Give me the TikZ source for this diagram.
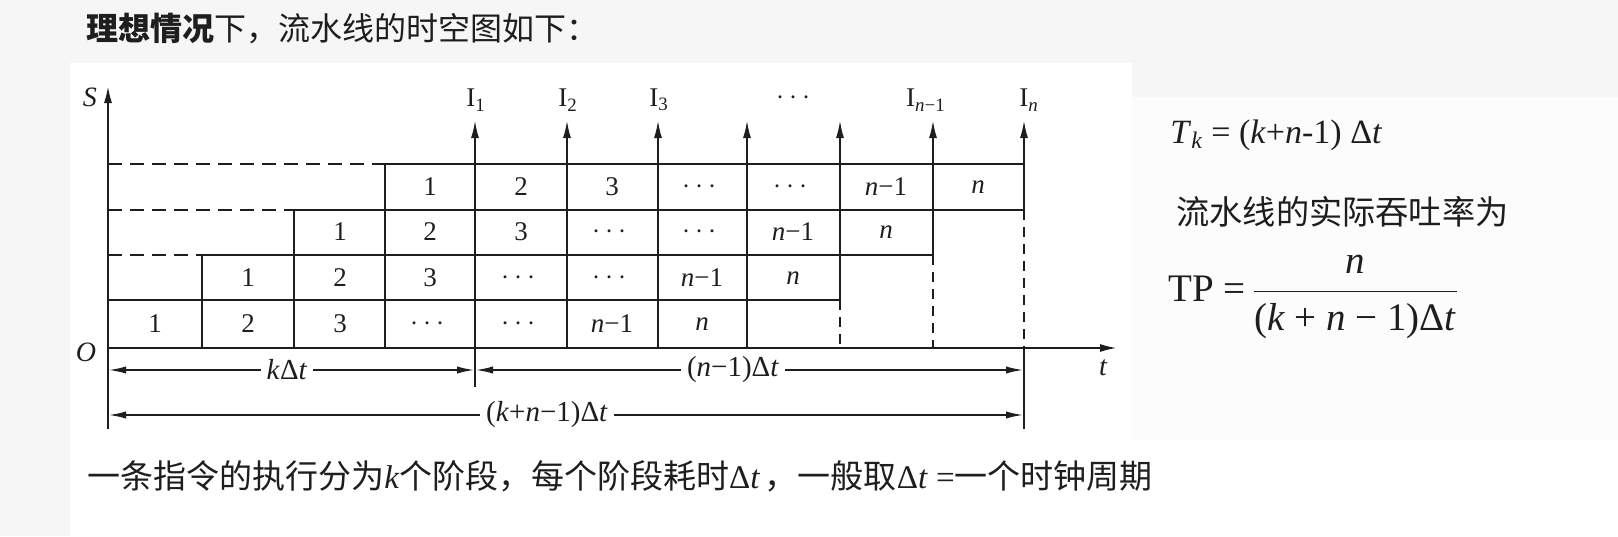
\documentclass[tikz,border=0pt]{standalone}
\usepackage{fontspec}
\usepackage{amsmath}
\setmainfont{Liberation Serif}
\newfontfamily\cjk{Noto Sans CJK SC}
\usetikzlibrary{arrows.meta}
\definecolor{ink}{HTML}{1E1E1E}
\definecolor{bgtop}{HTML}{F6F6F6}
\definecolor{bgright}{HTML}{FCFCFC}
\begin{document}
\begin{tikzpicture}[x=0.5pt,y=-0.5pt,
  grid/.style={line width=1.05pt, draw=ink},
  axisln/.style={line width=1.3pt, draw=ink},
  hdash/.style={grid, dash pattern=on 7pt off 4pt},
  vdash/.style={grid, dash pattern=on 5pt off 3.5pt},
  tip/.style={-{Latex[length=9pt,width=4pt]}},
  dim/.style={grid, {Latex[length=9pt,width=3.6pt]}-{Latex[length=9pt,width=3.6pt]}},
  cell/.style={font=\fontsize{13.5}{15}\selectfont, text=ink, inner sep=0pt},
  lbl/.style={font=\fontsize{13.5}{15}\selectfont, text=ink, inner sep=0pt},
  dimlbl/.style={font=\fontsize{14.5}{16}\selectfont, text=ink, fill=white, inner xsep=3pt, inner ysep=1pt},
  cjktxt/.style={font=\cjk\fontsize{16}{18}\selectfont, text=ink, inner sep=0pt, anchor=west}
]
\useasboundingbox (0,0) rectangle (1618,536);
% backgrounds
\fill[bgtop] (0,0) rectangle (1618,536);
\fill[bgright] (1132,97) rectangle (1618,536);
\fill[white] (70,63) rectangle (1132,536);
\fill[white] (1132,440) rectangle (1618,536);

% title
\node[cjktxt] (title) at (86,29) {{\bfseries 理想情况}下，流水线的时空图如下：};

% axes
\coordinate (O) at (108,348);
\coordinate (Sbot) at (108,429);
\coordinate (Stop) at (108,85);
\coordinate (tend) at (1118,348);
\draw[axisln, tip] (Sbot) -- (Stop);
\draw[axisln, tip] (O) -- (tend);
\node[lbl, font=\fontsize{14}{15}\selectfont\itshape] (Slab) at (90,97) {S};
\node[lbl, font=\fontsize{14}{15}\selectfont\itshape] (Olab) at (86,352) {O};
\node[lbl, font=\fontsize{14}{15}\selectfont\itshape] (tlab) at (1103,368) {t};

% horizontal lines
\draw[grid] (108,300) -- (840,300);
\draw[grid] (202,255) -- (933,255);
\draw[grid] (294,210) -- (1024,210);
\draw[grid] (385,164) -- (1024,164);
\draw[hdash] (108,255) -- (202,255);
\draw[hdash] (108,210) -- (294,210);
\draw[hdash] (108,164) -- (385,164);

% vertical lines
\draw[grid] (202,255) -- (202,348);
\draw[grid] (294,210) -- (294,348);
\draw[grid] (385,164) -- (385,348);
\draw[grid, tip] (475,387) -- (475,120);
\foreach \xx in {567,658,747} \draw[grid, tip] (\xx,348) -- (\xx,120);
\draw[grid, tip] (840,300) -- (840,120);
\draw[vdash] (840,300) -- (840,348);
\draw[grid, tip] (933,255) -- (933,120);
\draw[vdash] (933,255) -- (933,348);
\draw[grid, tip] (1024,210) -- (1024,120);
\draw[vdash] (1024,210) -- (1024,348);
\draw[grid] (1024,348) -- (1024,429);

% instruction labels
\node[lbl] (I1) at (476,100) {I$_{\text{1}}$};
\node[lbl] (I2) at (568,100) {I$_{\text{2}}$};
\node[lbl] (I3) at (659,100) {I$_{\text{3}}$};
\node[lbl] (Idots) at (796,98) {$\cdots$};
\node[lbl] (In1) at (926,100) {I$_{\text{\itshape n}\text{−1}}$};
\node[lbl] (In) at (1029,100) {I$_{\text{\itshape n}}$};

% cells
\def\cc{{155,248,340,430,521,612,702,793,886,978}}
\foreach \r/\yy in {0/324,1/278,2/232,3/187} {
  \foreach \lab [count=\i from 0] in {1,2,3,$\cdots$,$\cdots$,\textit{n}−1,\textit{n}} {
    \pgfmathtruncatemacro\k{\r+\i}
    \pgfmathsetmacro\xx{\cc[\k]}
    \node[cell] (cell-\r-\i) at (\xx,\yy) {\lab};
  }
}

% dimension lines
\coordinate (d1a) at (108,370);
\coordinate (d1b) at (475,370);
\coordinate (d2b) at (1024,370);
\coordinate (d3a) at (108,415);
\coordinate (d3b) at (1024,415);
\draw[dim] (d1a) -- (d1b);
\draw[dim] (d1b) -- (d2b);
\draw[dim] (d3a) -- (d3b);
\node[dimlbl] (kdt) at (287,370) {\textit{k}Δ\textit{t}};
\node[dimlbl] (ndt) at (733,370) {(\textit{n}−1)Δ\textit{t}};
\node[dimlbl] (kndt) at (547,415) {(\textit{k}+\textit{n}−1)Δ\textit{t}};

% bottom text
\node[cjktxt, font=\cjk\fontsize{16.5}{18}\selectfont] (bottom) at (87,476) {一条指令的执行分为{\rmfamily\itshape k}个阶段，每个阶段耗时{\rmfamily Δ\itshape t}\,，一般取{\rmfamily Δ\textit{t} =}一个时钟周期};

% right formulas
\node[anchor=west, inner sep=0pt, text=ink, font=\fontsize{17}{19}\selectfont] (Tk) at (1170,135)
  {\textit{T}$_{\text{\itshape k}}$ = (\textit{k}+\textit{n}-1) Δ\textit{t}};
\node[cjktxt, font=\cjk\fontsize{16.6}{18}\selectfont] (tput) at (1176,212) {流水线的实际吞吐率为};
\node[anchor=west, inner sep=0pt, text=ink, font=\fontsize{19.5}{22}\selectfont] (TP) at (1168,297)
  {TP =\hspace{3pt}$\dfrac{\text{\itshape n}}{\text{(\textit{k} + \textit{n} − 1)Δ\textit{t}}}$};
\end{tikzpicture}
\end{document}
